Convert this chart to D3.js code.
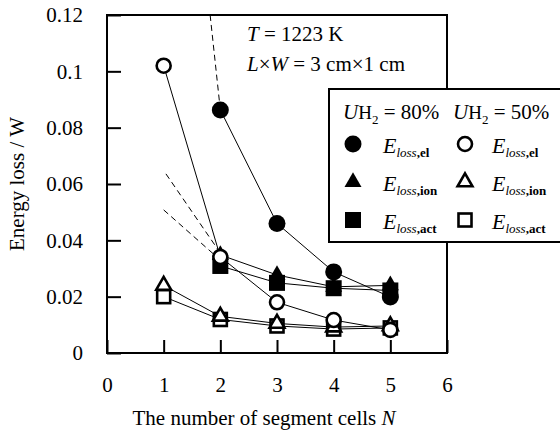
<!DOCTYPE html>
<html>
<head>
<meta charset="utf-8">
<script src="https://cdn.jsdelivr.net/npm/d3@7"></script>
<style>
  body { margin: 0; background: #fff; }
  svg text { font-family: "Liberation Serif", "DejaVu Serif", serif; fill: #000; }
  .line { fill: none; stroke: #000; stroke-width: 1; }
  .dash { fill: none; stroke: #000; stroke-width: 1; stroke-dasharray: 6,4; }
</style>
</head>
<body>
<div id="chart"></div>
<script>
// energy loss vs number of segment cells, T = 1223 K
var nAll = [1, 2, 3, 4, 5]
var n80 = [2, 3, 4, 5]   // 80% values at N=1 are off the scale

var elLoss80  = [0.0863, 0.0460, 0.0288, 0.0199]
var ionLoss80 = [0.0348, 0.0277, 0.0235, 0.0240]
var actLoss80 = [0.0309, 0.0249, 0.0230, 0.0222]

var elLoss50  = [0.1020, 0.0341, 0.0180, 0.0117, 0.0082]
var ionLoss50 = [0.0240, 0.0130, 0.0105, 0.0092, 0.0096]
var actLoss50 = [0.0200, 0.0119, 0.0096, 0.0085, 0.0089]

// dashed extrapolation toward N = 1 (80% series)
var elDashN  = [1.82, 2], elDashV  = [0.12, 0.0863]
var ionDashN = [1.04, 2], ionDashV = [0.0636, 0.0355]
var actDashN = [1.00, 2], actDashV = [0.0508, 0.0330]

var xTicks = [0, 1, 2, 3, 4, 5, 6]
var yTicks = [0, 0.02, 0.04, 0.06, 0.08, 0.1, 0.12]
var yTickLabels = ['0', '0.02', '0.04', '0.06', '0.08', '0.1', '0.12']

var W = 560, H = 433
var m = {left: 107, right: 113, top: 15, bottom: 80}

var svg = d3.select('#chart').append('svg').attr('width', W).attr('height', H)

var x = d3.scaleLinear().domain([0, 6]).range([m.left, W - m.right])
var y = d3.scaleLinear().domain([0, 0.12]).range([H - m.bottom, m.top])

var font = 21

// axes, ticks pointing inward
var yAxis = d3.axisLeft(y).tickValues(yTicks)
  .tickFormat(function(d, i){ return yTickLabels[i] })
  .tickSizeInner(-14).tickSizeOuter(0).tickPadding(24)
var xAxis = d3.axisBottom(x).tickValues(xTicks).tickFormat(d3.format('d'))
  .tickSizeInner(-13).tickSizeOuter(0).tickPadding(24)

var gy = svg.append('g').attr('transform', 'translate(' + m.left + ',0)').call(yAxis)
var gx = svg.append('g').attr('transform', 'translate(0,' + y(0) + ')').call(xAxis)
;[gx, gy].forEach(function(g){
  g.select('.domain').remove()
  g.selectAll('line').attr('stroke', '#000').attr('stroke-width', 2)
  g.selectAll('text').style('font-size', font + 'px').attr('fill', '#000')
    .style('font-family', '"Liberation Serif", serif')
})

svg.append('rect')
  .attr('x', x(0)).attr('y', y(0.12))
  .attr('width', x(6) - x(0)).attr('height', y(0) - y(0.12))
  .attr('fill', 'none').attr('stroke', '#000').attr('stroke-width', 2)

// axis titles
svg.append('text')
  .attr('transform', 'translate(24,' + (y(0.06)) + ') rotate(-90)')
  .attr('text-anchor', 'middle').style('font-size', font + 'px')
  .text('Energy loss / W')

var xt = svg.append('text').attr('x', 264).attr('y', 425)
  .attr('text-anchor', 'middle').style('font-size', font + 'px')
xt.append('tspan').text('The number of segment cells ')
xt.append('tspan').style('font-style', 'italic').text('N')

// conditions text
var t1 = svg.append('text').attr('x', 247).attr('y', 41).style('font-size', font + 'px')
t1.append('tspan').style('font-style', 'italic').text('T')
t1.append('tspan').text(' = 1223 K')
var t2 = svg.append('text').attr('x', 247).attr('y', 71).style('font-size', font + 'px')
t2.append('tspan').style('font-style', 'italic').text('L')
t2.append('tspan').text('\u00d7')
t2.append('tspan').style('font-style', 'italic').text('W')
t2.append('tspan').text(' = 3 cm\u00d71 cm')

// lines
var line = d3.line().x(function(d){ return x(d[0]) }).y(function(d){ return y(d[1]) })
var plotG = svg.append('g')

function pairs(ns, vs){ return ns.map(function(n, i){ return [n, vs[i]] }) }

plotG.append('defs').append('clipPath').attr('id', 'clip')
  .append('rect').attr('x', x(0)).attr('y', y(0.12))
  .attr('width', x(6) - x(0)).attr('height', y(0) - y(0.12))

var dashG = plotG.append('g').attr('clip-path', 'url(#clip)')
;[[elDashN, elDashV], [ionDashN, ionDashV], [actDashN, actDashV]].forEach(function(s){
  dashG.append('path').attr('class', 'dash').attr('d', line(pairs(s[0], s[1])))
})

var series = [
  {ns: n80, vs: actLoss80, shape: 'square', open: false},
  {ns: n80, vs: ionLoss80, shape: 'triangle', open: false},
  {ns: n80, vs: elLoss80, shape: 'circle', open: false},
  {ns: nAll, vs: actLoss50, shape: 'square', open: true},
  {ns: nAll, vs: ionLoss50, shape: 'triangle', open: true},
  {ns: nAll, vs: elLoss50, shape: 'circle', open: true}
]

series.forEach(function(s){
  plotG.append('path').attr('class', 'line').attr('d', line(pairs(s.ns, s.vs)))
})

function marker(g, shape, open, cx, cy){
  var p
  if (shape == 'circle') {
    p = g.append('circle').attr('cx', cx).attr('cy', cy).attr('r', open ? 7 : 8.5)
  } else if (shape == 'square') {
    var a = open ? 13 : 16
    p = g.append('rect').attr('x', cx - a / 2).attr('y', cy - a / 2).attr('width', a).attr('height', a)
  } else {
    p = g.append('path').attr('transform', 'translate(' + cx + ',' + cy + ')')
      .attr('d', d3.symbol().type(d3.symbolTriangle).size(open ? 95 : 125)())
  }
  if (open) p.attr('fill', '#fff').attr('stroke', '#000').attr('stroke-width', 2.6)
  else p.attr('fill', '#000')
  return p
}

series.forEach(function(s){
  s.ns.forEach(function(n, i){ marker(plotG, s.shape, s.open, x(n), y(s.vs[i])) })
})

// legend
var lg = svg.append('g')
lg.append('rect').attr('x', 329).attr('y', 89).attr('width', 245).attr('height', 153)
  .attr('fill', '#fff').attr('stroke', '#000').attr('stroke-width', 2)

var heads = ['80%', '50%'], colX = [343, 453]
heads.forEach(function(h, i){
  var t = lg.append('text').attr('x', colX[i]).attr('y', 119).style('font-size', font + 'px')
  t.append('tspan').style('font-style', 'italic').text('U')
  t.append('tspan').style('font-size', '19px').text('H')
  t.append('tspan').attr('dy', 5).style('font-size', '13px').text('2')
  t.append('tspan').attr('dy', -5).text(' = ' + h)
})

var rows = [
  {shape: 'circle', sub: 'el'},
  {shape: 'triangle', sub: 'ion'},
  {shape: 'square', sub: 'act'}
]
var symX = [353, 465], txtX = [383, 492], rowY = [153, 191, 229]
rows.forEach(function(r, i){
  ;[false, true].forEach(function(open, j){
    marker(lg, r.shape, open, symX[j], rowY[i] - 9)
    var t = lg.append('text').attr('x', txtX[j]).attr('y', rowY[i]).style('font-size', '22px')
    t.append('tspan').style('font-style', 'italic').text('E')
    t.append('tspan').attr('dy', 4).style('font-size', '13px').style('font-style', 'italic').text('loss')
    t.append('tspan').style('font-size', '13px').style('font-weight', 'bold').text(',' + r.sub)
  })
})
</script>
</body>
</html>
